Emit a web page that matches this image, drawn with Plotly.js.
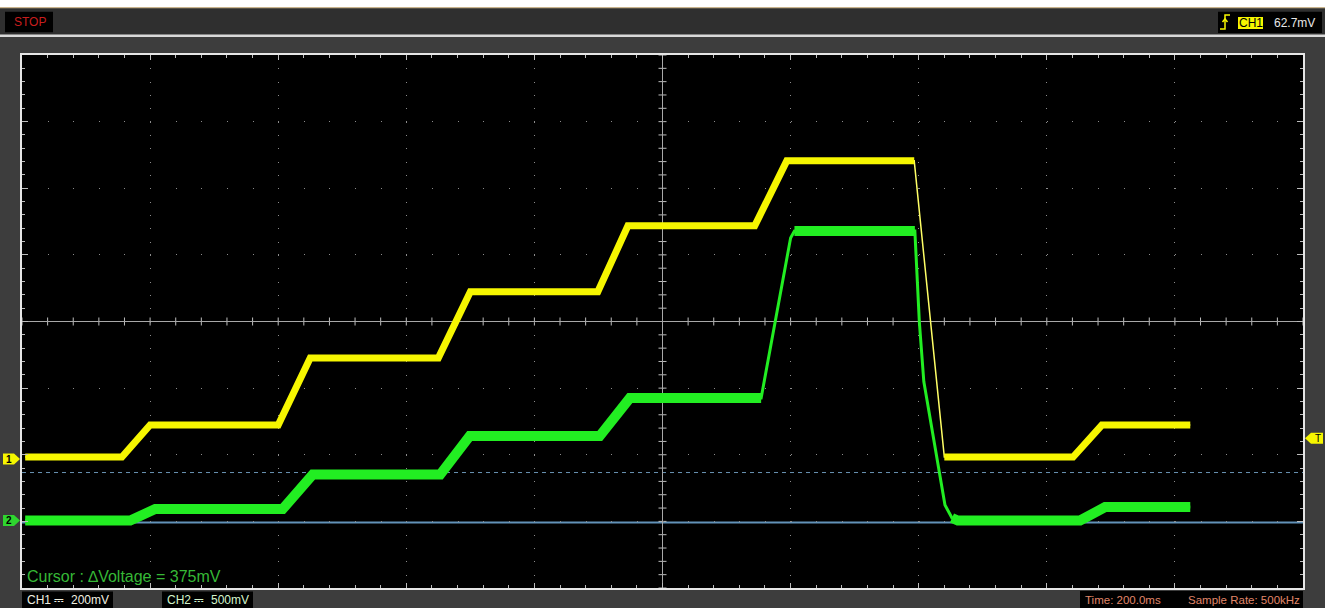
<!DOCTYPE html>
<html><head><meta charset="utf-8">
<script src="https://cdn.plot.ly/plotly-3.0.1.min.js"></script>
<style>html,body{margin:0;padding:0;background:#3d3d3d;overflow:hidden}#chart{width:1325px;height:608px}</style>
</head><body><div id="chart"></div>
<script>
// ---------------- data ----------------
const TIME_DIV_MS = 200;          // Time: 200.0ms / div
const CH1_VDIV_MV = 200;          // CH1 200mV / div
const CH2_VDIV_MV = 500;          // CH2 500mV / div
const CH1_OFFSET_DIV = -2.064;    // CH1 ground marker position (divisions from centre)
const CH2_OFFSET_DIV = -2.987;    // CH2 ground marker position
const TRIGGER_MV = 62.7;          // trigger level on CH1
const CURSOR_MV = [-15, 360];     // horizontal cursors on CH2 (delta 375mV)
const SAMPLE_RATE = '500kHz';

const CH1_TIME_MS = [-995, -844, -800, -600, -550, -350, -300, -101, -54, 144, 194, 393, 440, 641, 686, 824];
const CH1_MV      = [6, 6, 102, 102, 303, 303, 502, 502, 700, 700, 895, 895, 6, 6, 102, 102];

const CH2_TIME_MS = [-995, -831, -792, -593, -546, -347, -301, -98, -51, 154, 200, 206, 394, 401, 408, 432, 441, 452, 461, 652, 691, 824];
const CH2_MV      = [0, 0, 86, 86, 345, 345, 634, 634, 919, 919, 2120, 2173, 2173, 1490, 1043, 356, 116, 19, 0, 0, 101, 101];

// ---------------- geometry / style ----------------
const W = 1325, H = 608, ML = 22, MR = 22, MT = 55, MB = 20;
const PW = W - ML - MR, PH = H - MT - MB;
const px = x => (x - ML) / PW;
const py = y => (H - MB - y) / PH;
const FONT = 'Liberation Sans, Arial, sans-serif';
const YEL = '#f6f600', GRN = '#22ee22';
const TICKC = '#bdbdbd';

const xRange = [-5 * TIME_DIV_MS, 5 * TIME_DIV_MS];
const ch1Range = [(-4 - CH1_OFFSET_DIV) * CH1_VDIV_MV, (4 - CH1_OFFSET_DIV) * CH1_VDIV_MV];
const ch2Range = [(-4 - CH2_OFFSET_DIV) * CH2_VDIV_MV, (4 - CH2_OFFSET_DIV) * CH2_VDIV_MV];

// split a trace so that fast (steep) edges are drawn thin, slow parts thick
function slowParts(t, v, vdiv, thr) {
  const x = [], y = [];
  for (let i = 0; i < t.length; i++) {
    if (i > 0) {
      const s = Math.abs(v[i] - v[i - 1]) / vdiv / ((t[i] - t[i - 1]) / TIME_DIV_MS);
      if (s > thr) { x.push(null); y.push(null); }
    }
    x.push(t[i]); y.push(v[i]);
  }
  return { x, y };
}
const y1s = slowParts(CH1_TIME_MS, CH1_MV, CH1_VDIV_MV, 6);
const y2s = slowParts(CH2_TIME_MS, CH2_MV, CH2_VDIV_MV, 3);

const traces = [
  { x: CH2_TIME_MS, y: CH2_MV, xaxis: 'x', yaxis: 'y3', mode: 'lines', line: { color: GRN, width: 3 }, hoverinfo: 'skip', showlegend: false },
  { x: y2s.x, y: y2s.y, xaxis: 'x', yaxis: 'y3', mode: 'lines', connectgaps: false, line: { color: GRN, width: 10 }, hoverinfo: 'skip', showlegend: false },
  { x: CH1_TIME_MS, y: CH1_MV, xaxis: 'x', yaxis: 'y2', mode: 'lines', line: { color: '#ffff66', width: 1.5 }, hoverinfo: 'skip', showlegend: false },
  { x: y1s.x, y: y1s.y, xaxis: 'x', yaxis: 'y2', mode: 'lines', connectgaps: false, line: { color: YEL, width: 7 }, hoverinfo: 'skip', showlegend: false }
];

const rect = (x0, y0, x1, y1, c) => ({
  type: 'rect', xref: 'paper', yref: 'paper', layer: 'above',
  x0: px(x0), x1: px(x1), y0: py(y0), y1: py(y1), fillcolor: c, line: { width: 0 }
});
const txt = (x, y, s, color, size, xanchor) => ({
  xref: 'paper', yref: 'paper', x: px(x), y: py(y), text: s, showarrow: false,
  xanchor: xanchor || 'left', yanchor: 'middle', font: { family: FONT, size: size, color: color }
});

const shapes = [
  rect(0, 0, W, 7, '#ffffff'),
  rect(0, 7, W, 8.5, '#c9b48e'),
  rect(0, 8.5, W, 34.5, '#2f2f2f'),
  rect(0, 34.5, W, 37, '#d9d9d9'),
  rect(5, 11.7, 53, 32.3, '#000000'),
  rect(1218, 11.7, 1322, 33, '#000000'),
  rect(1238, 17, 1263, 29, YEL),
  rect(22, 591.5, 113, 608, '#000000'),
  rect(162, 591.5, 253, 608, '#000000'),
  rect(1080, 591, 1303, 608, '#000000'),
  // rising-edge trigger icon
  { type: 'path', xref: 'paper', yref: 'paper', layer: 'above', line: { color: YEL, width: 1.5 },
    path: `M${px(1220)},${py(29)}L${px(1225)},${py(29)}L${px(1225)},${py(15)}L${px(1230)},${py(15)}` },
  { type: 'path', xref: 'paper', yref: 'paper', layer: 'above', line: { color: YEL, width: 1.5 },
    path: `M${px(1222.5)},${py(22)}L${px(1225)},${py(19)}L${px(1227.5)},${py(22)}` },
  // cursors (CH2)
  { type: 'line', xref: 'x', yref: 'y3', x0: xRange[0], x1: xRange[1], y0: CURSOR_MV[1], y1: CURSOR_MV[1], layer: 'below',
    line: { color: '#6a93b3', width: 1, dash: '4px,4px' } },
  { type: 'line', xref: 'x', yref: 'y3', x0: xRange[0], x1: xRange[1], y0: CURSOR_MV[0], y1: CURSOR_MV[0], layer: 'below',
    line: { color: '#6292b8', width: 1.8 } },
  // channel ground markers and trigger marker
  { type: 'path', xref: 'paper', yref: 'y2', xsizemode: 'pixel', ysizemode: 'pixel', xanchor: 0, yanchor: 0, layer: 'above',
    path: 'M-19,-5.5L-8,-5.5L-2,0L-8,5.5L-19,5.5Z', fillcolor: YEL, line: { width: 0 } },
  { type: 'path', xref: 'paper', yref: 'y3', xsizemode: 'pixel', ysizemode: 'pixel', xanchor: 0, yanchor: 0, layer: 'above',
    path: 'M-19,-5.5L-8,-5.5L-2,0L-8,5.5L-19,5.5Z', fillcolor: '#2fd62f', line: { width: 0 } },
  { type: 'path', xref: 'paper', yref: 'y2', xsizemode: 'pixel', ysizemode: 'pixel', xanchor: 1, yanchor: TRIGGER_MV, layer: 'above',
    path: 'M2,0L8,-5.5L20,-5.5L20,5.5L8,5.5Z', fillcolor: YEL, line: { width: 0 } }
];

// centre-cross tick marks, one at every 1/5 division
for (let k = -25; k <= 25; k++) {
  if (k === 0) continue;
  shapes.push({ type: 'line', xref: 'x', yref: 'y', xsizemode: 'scaled', ysizemode: 'pixel', yanchor: 0,
    x0: k * TIME_DIV_MS / 5, x1: k * TIME_DIV_MS / 5, y0: -4, y1: 4, layer: 'below', line: { color: TICKC, width: 1 } });
}
for (let k = -20; k <= 20; k++) {
  if (k === 0) continue;
  shapes.push({ type: 'line', xref: 'x', yref: 'y', xsizemode: 'pixel', ysizemode: 'scaled', xanchor: 0,
    y0: k / 5, y1: k / 5, x0: -4, x1: 4, layer: 'below', line: { color: TICKC, width: 1 } });
}

const annotations = [
  txt(12, 22, 'STOP', '#c81e1e', 12),
  txt(1250.5, 23, 'CH1', '#000000', 12, 'center'),
  txt(1272, 23, TRIGGER_MV + 'mV', '#e8e8e8', 12),
  txt(25, 600, 'CH1 ⎓  ' + CH1_VDIV_MV + 'mV', '#f0f0e0', 12),
  txt(165, 600, 'CH2 ⎓  ' + CH2_VDIV_MV + 'mV', '#d4f5cc', 12),
  txt(1083, 600, 'Time: ' + TIME_DIV_MS.toFixed(1) + 'ms', '#e0876a', 11.5),
  txt(1302, 600, 'Sample Rate: ' + SAMPLE_RATE, '#e0876a', 11.5, 'right'),
  txt(25, 576, 'Cursor : ∆Voltage = ' + (CURSOR_MV[1] - CURSOR_MV[0]) + 'mV', '#36b836', 16),
  { xref: 'paper', yref: 'y2', x: 0, y: 0, xshift: -13.5, text: '<b>1</b>', showarrow: false, xanchor: 'center', yanchor: 'middle', font: { family: FONT, size: 10, color: '#000' } },
  { xref: 'paper', yref: 'y3', x: 0, y: 0, xshift: -13.5, text: '<b>2</b>', showarrow: false, xanchor: 'center', yanchor: 'middle', font: { family: FONT, size: 10, color: '#000' } },
  { xref: 'paper', yref: 'y2', x: 1, y: TRIGGER_MV, xshift: 14.5, text: 'T', showarrow: false, xanchor: 'center', yanchor: 'middle', font: { family: FONT, size: 10, color: '#000' } }
];

const layout = {
  width: W, height: H,
  margin: { l: ML, r: MR, t: MT, b: MB, pad: 0 },
  paper_bgcolor: '#3d3d3d', plot_bgcolor: '#000000',
  font: { family: FONT },
  showlegend: false,
  xaxis: {
    range: xRange, showticklabels: false, fixedrange: true,
    dtick: TIME_DIV_MS, tick0: 0, tickcolor: TICKC, tickwidth: 1,
    showgrid: true, gridcolor: '#8c8c8c', gridwidth: 1, griddash: `1px,${(PH / 40 - 1).toFixed(3)}px`,
    zeroline: true, zerolinecolor: '#a8a8a8', zerolinewidth: 1,
    showline: true, linecolor: '#e6e6e6', linewidth: 2, mirror: 'ticks',
    ticks: 'inside', ticklen: 5,
    minor: { dtick: TIME_DIV_MS / 5, tick0: 0, ticks: 'inside', ticklen: 3, tickcolor: TICKC, showgrid: false }
  },
  yaxis: {
    range: [-4, 4], showticklabels: false, fixedrange: true,
    dtick: 1, tick0: 0, tickcolor: TICKC, tickwidth: 1,
    showgrid: true, gridcolor: '#8c8c8c', gridwidth: 1, griddash: `1px,${(PW / 50 - 1).toFixed(3)}px`,
    zeroline: true, zerolinecolor: '#a8a8a8', zerolinewidth: 1,
    showline: true, linecolor: '#e6e6e6', linewidth: 2, mirror: 'ticks',
    ticks: 'inside', ticklen: 6,
    minor: { dtick: 0.2, tick0: 0, ticks: 'inside', ticklen: 3, tickcolor: TICKC, showgrid: false }
  },
  // channel voltage scales
  yaxis2: { overlaying: 'y', anchor: 'x', range: ch1Range, visible: false, fixedrange: true },
  yaxis3: { overlaying: 'y', anchor: 'x', range: ch2Range, visible: false, fixedrange: true },
  shapes: shapes,
  annotations: annotations
};

Plotly.newPlot('chart', traces, layout, { staticPlot: true, displayModeBar: false });
</script>
</body></html>
